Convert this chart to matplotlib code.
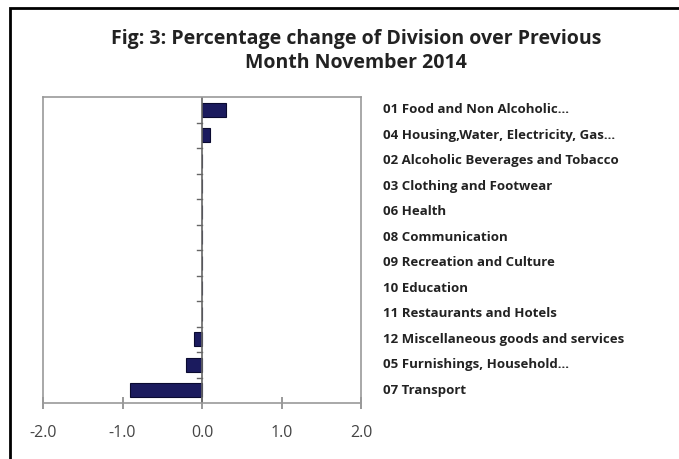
import matplotlib.pyplot as plt
from matplotlib.patches import Rectangle
from matplotlib.transforms import blended_transform_factory

categories = [
    "01 Food and Non Alcoholic...",
    "04 Housing,Water, Electricity, Gas...",
    "02 Alcoholic Beverages and Tobacco",
    "03 Clothing and Footwear",
    "06 Health",
    "08 Communication",
    "09 Recreation and Culture",
    "10 Education",
    "11 Restaurants and Hotels",
    "12 Miscellaneous goods and services",
    "05 Furnishings, Household...",
    "07 Transport",
]
values = [0.3, 0.1, 0.0, 0.0, 0.0, 0.0, 0.0, 0.0, 0.0, -0.1, -0.2, -0.9]
xticks = [-2.0, -1.0, 0.0, 1.0, 2.0]

plt.rcParams['font.family'] = ['Open Sans', 'DejaVu Sans']

fig = plt.figure(figsize=(6.79, 4.59), dpi=100)
W, H = 679, 459
ax = fig.add_axes([43 / W, 1 - 403 / H, (361 - 43) / W, (403 - 97) / H])

# outer chart border
fig.patches.append(Rectangle((10 / W, -0.05), 1.1, 1 - 8 / H + 0.05,
                             transform=fig.transFigure, fill=False,
                             edgecolor='black', linewidth=2.0))

y = list(range(len(categories)))
ax.barh(y, values, height=0.55, color='#1b1b5e', edgecolor='#0a0a30', linewidth=0.8)

ax.set_xlim(-2.0, 2.0)
ax.set_ylim(len(categories) - 0.5, -0.5)
ax.set_xticks(xticks)
ax.set_xticklabels([f"{v:.1f}" for v in xticks], fontsize=11.5, color='#444444')
ax.tick_params(axis='x', direction='inout', length=9, color='#888888', width=1.2, pad=11)

for s in ax.spines.values():
    s.set_color('#999999')
    s.set_linewidth(1.2)

# vertical axis at zero with category tick marks
ax.axvline(0, color='#666666', linewidth=1.2)
ax.set_yticks([])
for b in range(1, len(categories)):
    ax.plot([-0.06, 0], [b - 0.5, b - 0.5], color='#666666', linewidth=1.0)

# category labels at right side of plot
lab = blended_transform_factory(fig.transFigure, ax.transData)
for i, c in enumerate(categories):
    ax.text(383 / W, i, c, transform=lab, ha='left', va='center',
            fontsize=9.5, fontweight='bold', color='#222222', clip_on=False)

fig.text(356 / W, 1 - 51 / H,
         "Fig: 3: Percentage change of Division over Previous\nMonth November 2014",
         ha='center', va='center', fontsize=14, fontweight='bold',
         color='#222222', linespacing=1.3)

fig.savefig("out.png", dpi=100)
